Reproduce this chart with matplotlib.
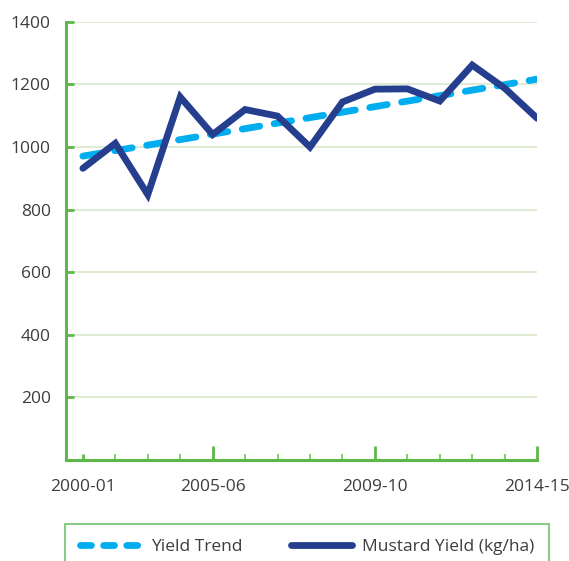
import numpy as np
import matplotlib
matplotlib.use('Agg')
import matplotlib.pyplot as plt

years = ['2000-01', '2001-02', '2002-03', '2003-04', '2004-05', '2005-06', '2006-07',
         '2007-08', '2008-09', '2009-10', '2010-11', '2011-12', '2012-13', '2013-14', '2014-15']
mustard_yield = [932, 1012, 848, 1160, 1040, 1120, 1099, 1000, 1144, 1185, 1186, 1147, 1262, 1188, 1092]
trend_idx = [0, 14]
trend_vals = [971, 1217]
label_idx = [0, 4, 9, 14]
label_txt = ['2000-01', '2005-06', '2009-10', '2014-15']
yticks = [200, 400, 600, 800, 1000, 1200, 1400]

plt.rcParams['font.family'] = ['Open Sans', 'DejaVu Sans']

green = '#5cb947'
grid_c = '#d9e8cc'
text_c = '#3d3d3d'
fs = 12.5

fig = plt.figure(figsize=(5.69, 5.61), dpi=100)
ax = fig.add_axes([0.116, 0.180, 0.828, 0.781])

x = np.arange(len(years))
ax.plot(trend_idx, trend_vals, color='#00aeef', lw=4.9, dashes=(2.6, 2.15),
        dash_capstyle='round', label='Yield Trend', zorder=3)
ax.plot(x, mustard_yield, color='#253f8e', lw=4.9, solid_joinstyle='miter',
        solid_capstyle='round', label='Mustard Yield (kg/ha)', zorder=4)

ax.set_xlim(-0.52, 14)
ax.set_ylim(0, 1400)
ax.set_yticks(yticks)
ax.yaxis.grid(True, color=grid_c, lw=1.2)
ax.set_axisbelow(True)

for s in ['top', 'right']:
    ax.spines[s].set_visible(False)
for s in ['left', 'bottom']:
    ax.spines[s].set_color(green)
    ax.spines[s].set_linewidth(2.2)

ax.tick_params(axis='y', direction='in', length=6, width=2, color=green,
               labelsize=fs, labelcolor=text_c, pad=11)
# minor ticks at every year, major ticks + labels at selected years
ax.set_xticks(label_idx)
ax.set_xticklabels(label_txt)
ax.set_xticks([i for i in x if i not in label_idx[1:]], minor=True)
ax.tick_params(axis='x', which='major', direction='in', length=10, width=2,
               color=green, labelsize=fs, labelcolor=text_c, pad=14)
ax.tick_params(axis='x', which='minor', direction='in', length=4, width=1.3,
               color='#7cc96a')
ax.xaxis.get_major_ticks()[0].tick1line.set_markersize(4)

leg = fig.legend(loc='upper left', bbox_to_anchor=(0.114, 0, 0.851, 0.066),
                 mode='expand', ncol=2, borderaxespad=0, fontsize=fs,
                 handlelength=3.5, handletextpad=0.6, columnspacing=2.6,
                 fancybox=False, labelcolor=text_c, borderpad=0.85)
leg.get_frame().set_edgecolor('#6cc06c')
leg.get_frame().set_linewidth(1.5)
# shorter dash pattern in the legend key (three dashes)
leg.get_lines()[0].set_dashes((1.6, 1.8))

fig.savefig('out.png', dpi=100)
